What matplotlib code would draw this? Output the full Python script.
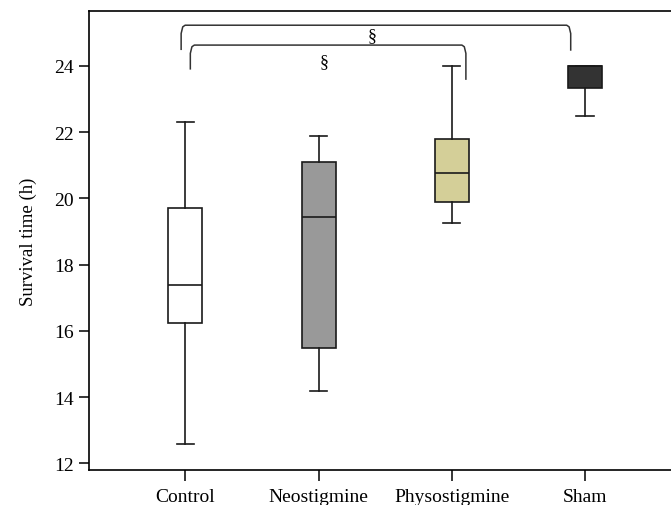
import matplotlib
matplotlib.use("Agg")
import matplotlib.pyplot as plt

groups = ["Control", "Neostigmine", "Physostigmine", "Sham"]
whislo = [12.58, 14.19, 19.27, 22.49]
q1 = [16.25, 15.5, 19.9, 23.33]
med = [17.4, 19.45, 20.78, 24.0]
q3 = [19.7, 21.11, 21.8, 24.0]
whishi = [22.3, 21.9, 24.0, 24.0]
colors = ["#ffffff", "#999999", "#d4cf98", "#333333"]

# significance brackets: (x left, x right, y top, y left end, y right end, label x, label y)
brackets = [
    (0.968, 3.893, 25.23, 24.48, 24.46, 2.40, 24.93),
    (1.037, 3.106, 24.63, 23.89, 23.58, 2.04, 24.13),
]

plt.rcParams["font.family"] = ["Liberation Serif", "DejaVu Serif"]

fig = plt.figure(figsize=(6.71, 5.06), dpi=100)
ax = fig.add_axes([0.1326, 0.069, 0.8674, 0.908])

stats = []
for i in range(len(groups)):
    stats.append({"whislo": whislo[i], "q1": q1[i], "med": med[i],
                  "q3": q3[i], "whishi": whishi[i], "fliers": []})

pos = list(range(1, len(groups) + 1))
bp = ax.bxp(stats, positions=pos, widths=0.255, capwidths=0.13,
            patch_artist=True, showfliers=False,
            boxprops=dict(linewidth=1.2, edgecolor="#1a1a1a"),
            medianprops=dict(color="#1a1a1a", linewidth=1.2),
            whiskerprops=dict(color="#1a1a1a", linewidth=1.2),
            capprops=dict(color="#1a1a1a", linewidth=1.2))
for patch, c in zip(bp["boxes"], colors):
    patch.set_facecolor(c)

for xl, xr, yt, yl, yr, tx, ty in brackets:
    d = 0.03
    ax.plot([xl, xl, xl + d * 0.4, xl + d, xr - d, xr - d * 0.4, xr, xr],
            [yl, yt - 0.25, yt - 0.05, yt, yt, yt - 0.05, yt - 0.25, yr],
            color="#333333", linewidth=1.1, solid_capstyle="butt")
    ax.text(tx, ty, "§", ha="center", va="center", fontsize=13)

ax.set_xlim(0.276, 4.646)
ax.set_ylim(11.8, 25.67)
ax.set_yticks([12, 14, 16, 18, 20, 22, 24])
ax.set_xticks(pos)
ax.set_xticklabels(groups)
ax.spines["right"].set_visible(False)
for s in ["left", "bottom", "top"]:
    ax.spines[s].set_linewidth(1.2)
ax.tick_params(direction="out", width=1.1, labelsize=14)
ax.tick_params(axis="y", length=7, pad=4)
ax.tick_params(axis="x", length=8, pad=5)
ax.set_ylabel("Survival time (h)", fontsize=13.5, labelpad=12)

fig.savefig("out.png", dpi=100)
